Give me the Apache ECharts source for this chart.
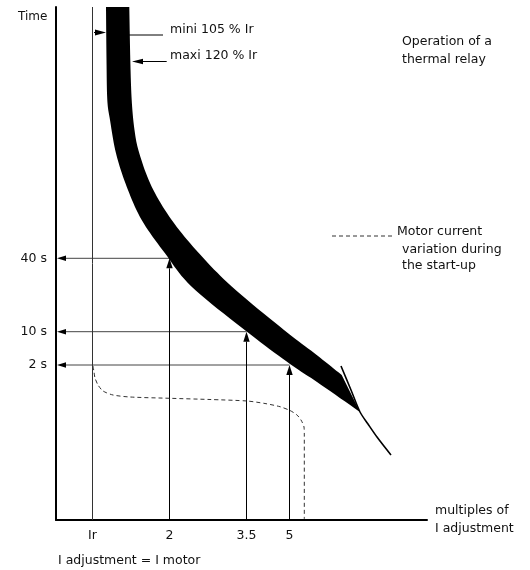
<!DOCTYPE html>
<html><head><meta charset="utf-8">
<script src="https://cdn.jsdelivr.net/npm/echarts@6.0.0/dist/echarts.min.js"></script>
<style>html,body{margin:0;padding:0;background:#fff}#c{width:530px;height:570px}</style>
</head><body><div id="c"></div>
<script>
// Schematic (unscaled) diagram units: x = current, y = time.
const xTickValues = [36.5, 113.5, 190.5, 233.5];
const xTickLabels = ['Ir', '2', '3.5', '5'];
const timeLabels = ['40 s', '10 s', '2 s'];
const timeValues = [261.7, 188.3, 155];
const timeCurrents = [113.5, 190.5, 233.5];
const irValue = 36.5;
const axisTop = 513;

// Tripping band (thermal relay curve): upper/right edge from top down to where it meets the cold curve
const bandUpperEdge = [[73.3,513],[74.3,460],[75.7,420],[78.5,390],[83.3,366.7],[95.7,333.3],[115.7,300],[143,266.7],[176,233.3],[228,190],[260.7,165],[285.7,145]];
// band tip
const bandTip = [304,108];
// lower/left edge from the tip back to the top
const bandLowerEdge = [[304,108],[261,138],[234,156],[190,189],[135.7,233.3],[109,266.7],[85.7,300],[70.7,333.3],[60,366.7],[54,400],[51.3,420],[50.5,460],[50,513]];
// thin cold-state curve at the end of the band
const tangentCurve = [[285,154],[295,130],[304,108],[312,96],[321,83],[335,65]];
// motor current during start-up (dashed)
const motorCurrent = [[37,154],[38,148],[39,142],[42,135],[47,129],[57,125],[74,123],[114,121.7],[154,120.5],[191,119],[209,116.5],[224,113.3],[234,109.5],[241,105],[245,100],[248,93],[248.3,85],[248.3,1]];
const legendSample = [[276,284],[337,284]];
// mini / maxi pointers
const miniArrow = [[38,487.5,50,487.5]];
const miniLeader = [[107,485],[70,485]];
const maxiArrow = [[110.7,458.5,76,458.5]];

const FONT = '12.5px "DejaVu Sans", sans-serif';
const chart = echarts.init(document.getElementById('c'), null, {renderer:'canvas'});

function smoothPts(pts, seg){
  const out = [];
  const n = pts.length;
  for (let i = 0; i < n - 1; i++) {
    const p0 = pts[Math.max(i-1,0)], p1 = pts[i], p2 = pts[i+1], p3 = pts[Math.min(i+2,n-1)];
    for (let s = 0; s < seg; s++) {
      const t = s/seg, t2 = t*t, t3 = t2*t;
      const f = k => 0.5*((2*p1[k]) + (-p0[k]+p2[k])*t + (2*p0[k]-5*p1[k]+4*p2[k]-p3[k])*t2 + (-p0[k]+3*p1[k]-3*p2[k]+p3[k])*t3);
      out.push([f(0), f(1)]);
    }
  }
  out.push(pts[n-1]);
  return out;
}

function makeArrow(color, L, W){
  return function(params, api){
    const a = api.coord([api.value(0), api.value(1)]);
    const b = api.coord([api.value(2), api.value(3)]);
    const dx = b[0]-a[0], dy = b[1]-a[1], len = Math.hypot(dx,dy);
    const ux = dx/len, uy = dy/len;
    const base = [b[0]-ux*L, b[1]-uy*L];
    return {type:'group', children:[
      {type:'line', shape:{x1:a[0],y1:a[1],x2:base[0],y2:base[1]}, style:{stroke:color, lineWidth:1}},
      {type:'polygon', shape:{points:[b,[base[0]-uy*W, base[1]+ux*W],[base[0]+uy*W, base[1]-ux*W]]}, style:{fill:'#000'}}
    ]};
  };
}

const verticalArrows = timeValues.map((v,i) => [timeCurrents[i], 0, timeCurrents[i], v]);
const horizontalArrows = timeValues.map((v,i) => [timeCurrents[i], v, 1, v]);

function findLabel(vals, labels, v){
  for (let i = 0; i < vals.length; i++) if (Math.abs(vals[i]-v) < 0.01) return labels[i];
  return '';
}

const option = {
  animation: false,
  backgroundColor: '#fff',
  grid: {left:56, right:103, top:7, bottom:50, containLabel:false},
  xAxis: {
    type:'value', min:0, max:371,
    name:'multiples of\nI adjustment', nameLocation:'end', nameGap:8,
    nameTextStyle:{fontFamily:'DejaVu Sans', fontSize:12.5, color:'#111', lineHeight:18, align:'left', verticalAlign:'middle'},
    axisLine:{lineStyle:{color:'#000', width:2}},
    axisTick:{show:false}, splitLine:{show:false},
    axisLabel:{customValues:xTickValues, margin:9, fontFamily:'DejaVu Sans', fontSize:12.5, color:'#111',
      formatter: v => findLabel(xTickValues, xTickLabels, v)}
  },
  yAxis: {
    type:'value', min:0, max:axisTop,
    axisLine:{show:true, lineStyle:{color:'#000', width:2}},
    axisTick:{show:false}, splitLine:{show:false},
    axisLabel:{customValues:timeValues, margin:9, fontFamily:'DejaVu Sans', fontSize:12.5, color:'#111',
      formatter: v => findLabel(timeValues, timeLabels, v)}
  },
  graphic: [
    {type:'text', x:18, y:17, style:{text:'Time', font:'12px "DejaVu Sans", sans-serif', fill:'#111', verticalAlign:'middle'}},
    {type:'text', x:170, y:30, style:{text:'mini 105 % Ir', font:FONT, fill:'#111', verticalAlign:'middle'}},
    {type:'text', x:170, y:56, style:{text:'maxi 120 % Ir', font:FONT, fill:'#111', verticalAlign:'middle'}},
    {type:'text', x:402, y:41.5, style:{text:'Operation of a', font:FONT, fill:'#111', verticalAlign:'middle'}},
    {type:'text', x:402, y:60, style:{text:'thermal relay', font:FONT, fill:'#111', verticalAlign:'middle'}},
    {type:'text', x:397, y:232, style:{text:'Motor current', font:FONT, fill:'#111', verticalAlign:'middle'}},
    {type:'text', x:402, y:249.5, style:{text:'variation during', font:FONT, fill:'#111', verticalAlign:'middle'}},
    {type:'text', x:402, y:266, style:{text:'the start-up', font:FONT, fill:'#111', verticalAlign:'middle'}},
    {type:'text', x:58, y:561, style:{text:'I adjustment = I motor', font:FONT, fill:'#111', verticalAlign:'middle'}}
  ],
  series: [
    {type:'line', data:[[irValue,0],[irValue,axisTop]], symbol:'none', lineStyle:{color:'#333', width:1}, silent:true},
    {type:'line', data:miniLeader, symbol:'none', lineStyle:{color:'#000', width:1}},
    {type:'custom', renderItem:makeArrow('#000',11,3), data:miniArrow},
    {type:'custom', renderItem:makeArrow('#000',11,2.7), data:maxiArrow},
    {type:'custom', renderItem:makeArrow('#444',9,2.7), data:horizontalArrows},
    {type:'custom', renderItem:makeArrow('#000',10,3.2), data:verticalArrows},
    {type:'line', data:motorCurrent, symbol:'none', smooth:0.25, lineStyle:{color:'#333', width:1, type:[4,3]}},
    {type:'line', data:legendSample, symbol:'none', lineStyle:{color:'#333', width:1, type:[4,3]}},
    {type:'custom', data:[[0,0]], renderItem:function(params, api){
      const up = smoothPts(bandUpperEdge.map(p => api.coord(p)), 10);
      up.push(api.coord(bandTip));
      const lo = smoothPts(bandLowerEdge.map(p => api.coord(p)), 10);
      return {type:'polygon', shape:{points:up.concat(lo)}, style:{fill:'#000'}};
    }},
    {type:'line', data:tangentCurve, symbol:'none', smooth:0.3, lineStyle:{color:'#000', width:1.6}}
  ]
};
chart.setOption(option);
</script></body></html>
